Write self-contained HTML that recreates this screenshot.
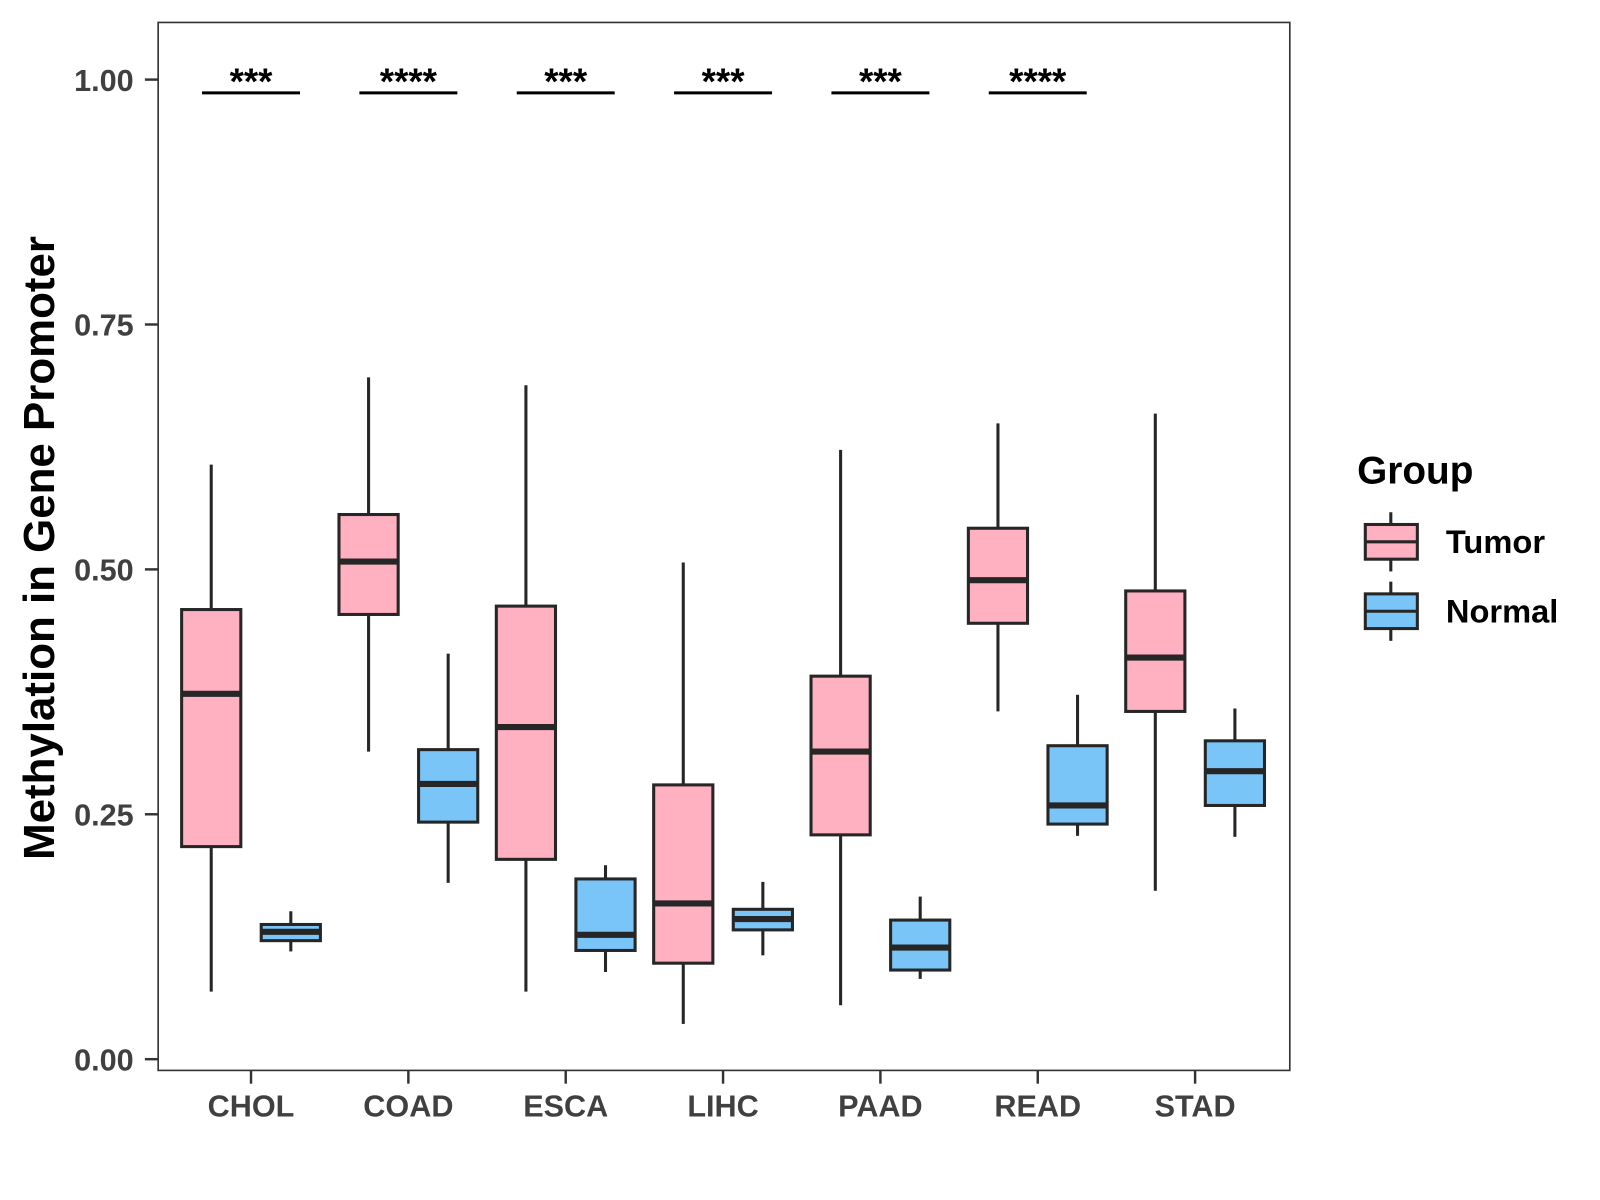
<!DOCTYPE html>
<html><head><meta charset="utf-8"><style>
html,body{margin:0;padding:0;background:#fff;}
svg{display:block;font-family:"Liberation Sans",Arial,sans-serif;}
</style></head><body>
<svg id="chart" width="1600" height="1200" viewBox="0 0 1568 1176" xmlns="http://www.w3.org/2000/svg">
<rect x="0" y="0" width="1568" height="1176" fill="#fff"/>
<g id="plot"></g>
</svg>
<script>
const categories = ["CHOL","COAD","ESCA","LIHC","PAAD","READ","STAD"];
// [lower whisker, Q1, median, Q3, upper whisker]
const tumorStats = [
  [0.069,0.217,0.373,0.459,0.607],
  [0.314,0.454,0.508,0.556,0.696],
  [0.069,0.204,0.339,0.4625,0.688],
  [0.036,0.098,0.159,0.280,0.507],
  [0.055,0.229,0.314,0.391,0.622],
  [0.355,0.445,0.489,0.542,0.649],
  [0.172,0.355,0.410,0.478,0.659]
];
const normalStats = [
  [0.110,0.121,0.130,0.1375,0.151],
  [0.180,0.242,0.281,0.316,0.414],
  [0.089,0.111,0.127,0.184,0.198],
  [0.106,0.132,0.143,0.153,0.181],
  [0.082,0.091,0.114,0.142,0.166],
  [0.228,0.240,0.259,0.320,0.372],
  [0.227,0.259,0.294,0.325,0.358]
];
const significance = ["***","****","***","***","***","****",""];
const yTicks = [0,0.25,0.5,0.75,1.0];
const yTickLabels = ["0.00","0.25","0.50","0.75","1.00"];

const NS="http://www.w3.org/2000/svg";
const g=document.getElementById('plot');
const PL=155,PR=1264,PT=22,PB=1049;
function y(v){return 1038 - v*960;}
function x(i){return 246 + i*154.2;}
function el(tag,attrs,parent){const e=document.createElementNS(NS,tag);for(const k in attrs)e.setAttribute(k,attrs[k]);(parent||g).appendChild(e);return e;}

const panel=el('rect',{x:PL,y:PT,width:PR-PL,height:PB-PT,fill:'none',stroke:'#333','stroke-width':1.6});



yTicks.forEach((t,i)=>{
  const tk=el('line',{x1:PL-13,x2:PL,y1:y(t),y2:y(t),stroke:'#333','stroke-width':2.4});
  
  
  const tx=el('text',{x:PL-24,y:y(t)+11,'text-anchor':'end','font-size':30,'font-weight':'bold',fill:'#404040'});
  tx.textContent=yTickLabels[i];
  
  
});
const yt=el('text',{x:0,y:0,transform:'translate(53,537) rotate(-90)','text-anchor':'middle','font-size':43,'font-weight':'bold',fill:'#000'});
yt.textContent='Methylation in Gene Promoter';



function drawBox(s,cx,fill,name){
  const w=58, grp=el('g',{});
  
  
  el('line',{x1:cx,x2:cx,y1:y(s[4]),y2:y(s[3]),stroke:'#262626','stroke-width':3},grp);
  el('line',{x1:cx,x2:cx,y1:y(s[1]),y2:y(s[0]),stroke:'#262626','stroke-width':3},grp);
  el('rect',{x:cx-w/2,y:y(s[3]),width:w,height:y(s[1])-y(s[3]),fill:fill,stroke:'#262626','stroke-width':3},grp);
  el('line',{x1:cx-w/2,x2:cx+w/2,y1:y(s[2]),y2:y(s[2]),stroke:'#262626','stroke-width':6},grp);
}

categories.forEach((c,i)=>{
  const cx=x(i);
  drawBox(tumorStats[i],cx-39,'#FFB0C1','tumor-box-'+c.toLowerCase());
  drawBox(normalStats[i],cx+39,'#7AC5F8','normal-box-'+c.toLowerCase());
  const tk=el('line',{x1:cx,x2:cx,y1:PB,y2:PB+13,stroke:'#333','stroke-width':2.4});
  
  
  const tx=el('text',{x:cx,y:1094,'text-anchor':'middle','font-size':30,'font-weight':'bold',fill:'#404040'});
  tx.textContent=c;
  
  
  if(significance[i]){
    const ln=el('line',{x1:cx-48,x2:cx+48,y1:91,y2:91,stroke:'#000','stroke-width':3});
    
    
    const st=el('text',{x:cx,y:92,'text-anchor':'middle','font-size':36,'font-weight':'bold',fill:'#000'});
    st.textContent=significance[i];
    
    
  }
});

const lt=el('text',{x:1330,y:474,'font-size':38,'font-weight':'bold',fill:'#000'});
lt.textContent='Group';


[["Tumor","#FFB0C1",531],["Normal","#7AC5F8",599]].forEach(([lab,col,cy])=>{
  const lg=el('g',{});
  
  
  el('line',{x1:1363,x2:1363,y1:cy-29,y2:cy+29,stroke:'#262626','stroke-width':3},lg);
  el('rect',{x:1338,y:cy-17,width:51,height:34,fill:col,stroke:'#262626','stroke-width':3},lg);
  el('line',{x1:1338,x2:1389,y1:cy,y2:cy,stroke:'#262626','stroke-width':3},lg);
  const t=el('text',{x:1417,y:cy+11,'font-size':32,'font-weight':'bold',fill:'#000'},lg);
  t.textContent=lab;
});
</script>
</body></html>
